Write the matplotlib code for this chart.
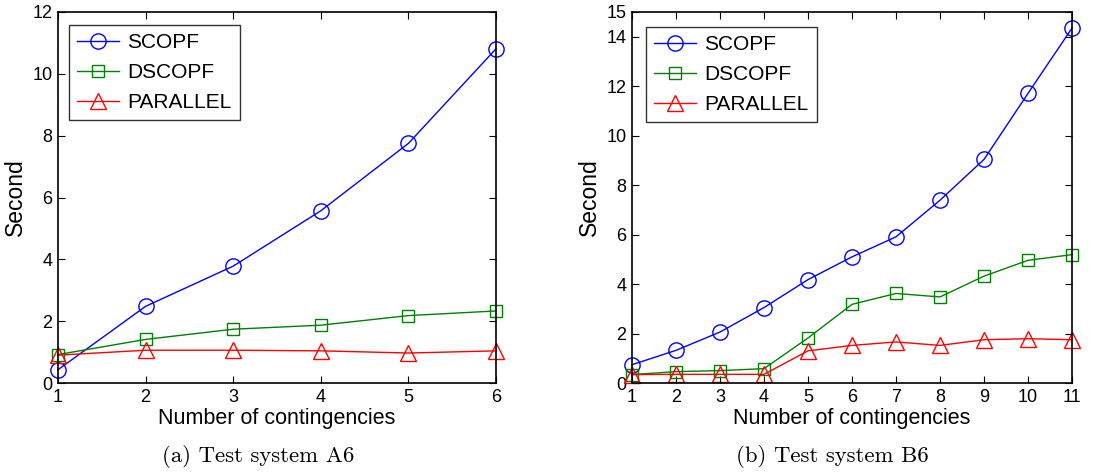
import matplotlib
matplotlib.use("Agg")
import matplotlib.pyplot as plt

plt.rcParams['font.family'] = ['Liberation Sans', 'DejaVu Sans']

# Data
x_a = [1, 2, 3, 4, 5, 6]
scopf_a = [0.43, 2.48, 3.78, 5.57, 7.75, 10.81]
dscopf_a = [0.92, 1.41, 1.74, 1.87, 2.18, 2.33]
parallel_a = [0.90, 1.06, 1.06, 1.04, 0.97, 1.04]

x_b = [1, 2, 3, 4, 5, 6, 7, 8, 9, 10, 11]
scopf_b = [0.74, 1.32, 2.06, 3.05, 4.18, 5.10, 5.91, 7.39, 9.04, 11.71, 14.35]
dscopf_b = [0.34, 0.46, 0.50, 0.58, 1.82, 3.18, 3.62, 3.48, 4.32, 4.96, 5.19]
parallel_b = [0.34, 0.35, 0.35, 0.35, 1.30, 1.52, 1.66, 1.52, 1.75, 1.79, 1.75]

series_names = ['SCOPF', 'DSCOPF', 'PARALLEL']
captions = ['(a) Test system A6', '(b) Test system B6']
ylim_a = (0, 12)
ylim_b = (0, 15)
yticks_a = [0, 2, 4, 6, 8, 10, 12]
yticks_b = [0, 2, 4, 6, 8, 10, 12, 14, 15]

W, H = 1118, 472
fig = plt.figure(figsize=(W / 100, H / 100), dpi=100)

def px_axes(l, r, t, b):
    return fig.add_axes([l / W, 1 - b / H, (r - l) / W, (b - t) / H])

ax1 = px_axes(58, 496, 12, 383)
ax2 = px_axes(632, 1072, 12, 383)

styles = [dict(color=(0, 0, 1), marker='o'),
          dict(color=(0, 0.5, 0), marker='s'),
          dict(color=(1, 0, 0), marker='^')]
msizes = [11, 8.5, 12]

def draw(ax, x, ys, ylim, yticks, legend_anchor):
    for y, name, st, ms in zip(ys, series_names, styles, msizes):
        ax.plot(x, y, color=st['color'], marker=st['marker'], markersize=ms,
                markerfacecolor='none', markeredgecolor=st['color'],
                markeredgewidth=1.0, linewidth=1.0, label=name, clip_on=False)
    ax.set_xlim(x[0], x[-1])
    ax.set_ylim(*ylim)
    ax.set_xticks(x)
    ax.set_yticks(yticks)
    ax.tick_params(direction='in', top=True, right=True, length=5, width=0.8,
                   labelsize=13, pad=4)
    for s in ax.spines.values():
        s.set_linewidth(1.2)
    ax.set_xlabel('Number of contingencies', fontsize=15.5, labelpad=2)
    ax.set_ylabel('Second', fontsize=16.5, labelpad=4)
    leg = ax.legend(loc='upper left', bbox_to_anchor=legend_anchor, fontsize=15,
                    frameon=True, fancybox=False, edgecolor='black',
                    handlelength=2.0, handletextpad=0.4, borderpad=0.4,
                    labelspacing=0.52, borderaxespad=0)
    leg.get_frame().set_linewidth(1.0)

draw(ax1, x_a, [scopf_a, dscopf_a, parallel_a], ylim_a, yticks_a,
     ((69 - 58) / 438, 1 - (25 - 12) / 371))
draw(ax2, x_b, [scopf_b, dscopf_b, parallel_b], ylim_b, yticks_b,
     ((646 - 632) / 440, 1 - (27 - 12) / 371))

fig.text(258 / W, 1 - 457 / H, captions[0], ha='center', va='center',
         fontsize=16.4, family=['cmr10', 'DejaVu Serif'])
fig.text(832 / W, 1 - 457 / H, captions[1], ha='center', va='center',
         fontsize=16.4, family=['cmr10', 'DejaVu Serif'])

fig.savefig('out.png', dpi=100)
